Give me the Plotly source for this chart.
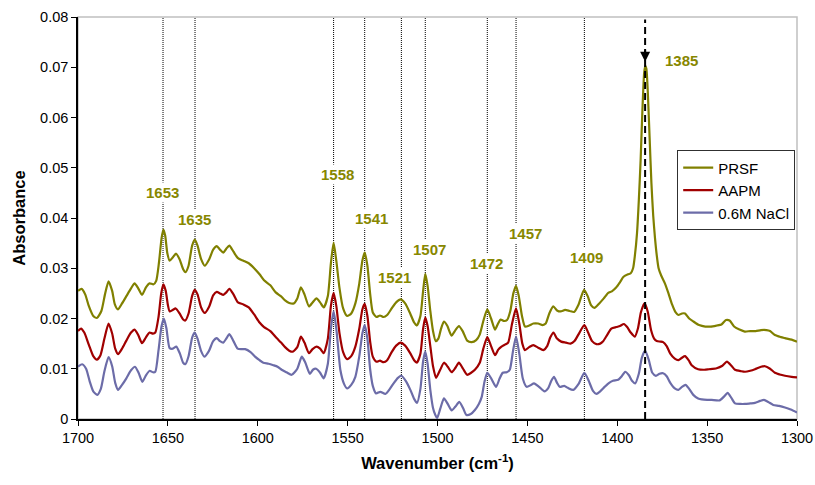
import plotly.graph_objects as go

# ---------------- data ----------------
prsf_wn = [1700, 1698, 1696, 1694, 1691.5, 1689.5, 1687, 1685, 1683, 1681, 1679.5, 1677.8, 1675.5, 1673, 1670.5,
           1668.5, 1666.5, 1664.4, 1662.2, 1660.2, 1658, 1656.5, 1655, 1653.5, 1652.5, 1651.5, 1650.3, 1649, 1647.2,
           1645.5, 1643.5, 1641.5, 1640.2, 1638.5, 1636.5, 1635, 1633.5, 1631.5, 1629.5, 1627, 1624.8, 1622.8, 1621,
           1619.2, 1617.5, 1615.8, 1613.5, 1611, 1608, 1605, 1602, 1599, 1596.5, 1593, 1590, 1587, 1584.8, 1582.5,
           1580, 1578, 1576, 1574, 1571.5, 1569.5, 1567.3, 1565.3, 1563.3, 1561, 1559.3, 1557.8, 1556.3, 1554.5,
           1552.5, 1550.3, 1548, 1545.7, 1543.5, 1541.8, 1540.5, 1539, 1537.5, 1536, 1534, 1532, 1530, 1528, 1525.5,
           1523, 1520.5, 1518, 1515.2, 1513, 1511.5, 1509.5, 1508, 1506.8, 1505.5, 1504, 1502.5, 1501, 1499.5, 1498,
           1496.4, 1494.5, 1492.2, 1490, 1488.1, 1486, 1483.5, 1481, 1478.5, 1476.5, 1474.5, 1472.3, 1470.2, 1468,
           1466.3, 1464.9, 1463, 1461.3, 1459.5, 1457.8, 1456.3, 1454.8, 1453, 1451.3, 1449, 1446.7, 1444, 1441.5,
           1439.8, 1437.8, 1435.6, 1433.5, 1431.5, 1429, 1426.5, 1424, 1421.5, 1418.5, 1416.5, 1414.5, 1412.7, 1410,
           1407.5, 1405, 1403, 1400.5, 1398.5, 1396.5, 1394, 1392.5, 1391.2, 1390.2, 1389, 1388, 1387, 1386, 1385,
           1384.4, 1383.8, 1383, 1382, 1381, 1380, 1379, 1378, 1377, 1375.5, 1373.5, 1371.5, 1369.5, 1367.5, 1366,
           1364, 1362.3, 1360, 1357.6, 1354.5, 1351, 1348, 1344.7, 1342, 1339.5, 1337.5, 1335, 1332, 1329, 1326,
           1323, 1320, 1317, 1315, 1312.3, 1309, 1306.7, 1303, 1300]
prsf_abs = [0.0255, 0.0259, 0.0248, 0.0225, 0.0205, 0.0201, 0.0215, 0.0248, 0.0274, 0.0255, 0.0228, 0.0218, 0.0230,
            0.0245, 0.0260, 0.0270, 0.0260, 0.0247, 0.0262, 0.0270, 0.0268, 0.0275, 0.0310, 0.0360, 0.0377, 0.0365,
            0.0330, 0.0315, 0.0322, 0.0329, 0.0318, 0.0298, 0.0292, 0.0305, 0.0345, 0.0357, 0.0345, 0.0318, 0.0305,
            0.0318, 0.0337, 0.0344, 0.0337, 0.0331, 0.0339, 0.0345, 0.0333, 0.0320, 0.0315, 0.0310, 0.0300, 0.0288,
            0.0276, 0.0266, 0.0252, 0.0244, 0.0236, 0.0231, 0.0230, 0.0240, 0.0262, 0.0248, 0.0224, 0.0232, 0.0240,
            0.0232, 0.0222, 0.0245, 0.0310, 0.0351, 0.0315, 0.0260, 0.0220, 0.0205, 0.0210, 0.0230, 0.0270, 0.0315,
            0.0331, 0.0305, 0.0250, 0.0212, 0.0203, 0.0206, 0.0203, 0.0207, 0.0220, 0.0232, 0.0238, 0.0230, 0.0210,
            0.0192, 0.0186, 0.0205, 0.0255, 0.0289, 0.0265, 0.0215, 0.0175, 0.0155, 0.0160, 0.0180, 0.0194, 0.0185,
            0.0166, 0.0177, 0.0185, 0.0175, 0.0156, 0.0153, 0.0157, 0.0168, 0.0195, 0.0218, 0.0200, 0.0178, 0.0190,
            0.0198, 0.0195, 0.0197, 0.0215, 0.0250, 0.0265, 0.0245, 0.0205, 0.0184, 0.0186, 0.0190, 0.0190, 0.0187,
            0.0190, 0.0210, 0.0224, 0.0216, 0.0214, 0.0217, 0.0215, 0.0213, 0.0228, 0.0257, 0.0245, 0.0226, 0.0221,
            0.0230, 0.0240, 0.0251, 0.0254, 0.0262, 0.0272, 0.0283, 0.0288, 0.0290, 0.0300, 0.0325, 0.0370, 0.0435,
            0.0515, 0.0615, 0.0690, 0.0703, 0.0697, 0.0650, 0.0560, 0.0470, 0.0405, 0.0360, 0.0325, 0.0300, 0.0285,
            0.0270, 0.0250, 0.0228, 0.0212, 0.0207, 0.0210, 0.0210, 0.0200, 0.0194, 0.0187, 0.0184, 0.0184, 0.0186,
            0.0188, 0.0197, 0.0196, 0.0184, 0.0178, 0.0174, 0.0175, 0.0175, 0.0177, 0.0177, 0.0175, 0.0167, 0.0163,
            0.0161, 0.0158, 0.0154]

aapm_wn = [1700, 1698.3, 1696.5, 1694, 1691.5, 1689.5, 1687.5, 1685.3, 1683, 1681, 1679.3, 1677.7, 1675.5, 1673.1,
           1670.5, 1668.5, 1666.5, 1664.4, 1662.3, 1660.2, 1658.3, 1657, 1655.2, 1653.7, 1652.5, 1651.2, 1650, 1649,
           1647.3, 1645.6, 1643.5, 1641.5, 1640.3, 1638.5, 1636.5, 1635.1, 1633.5, 1631.5, 1629.5, 1627, 1624.8,
           1622.8, 1621, 1619.2, 1617.5, 1615.8, 1613.5, 1611, 1608, 1605, 1602, 1599, 1596.5, 1593, 1589.5, 1587,
           1584.8, 1582.5, 1580.5, 1578, 1576, 1574, 1571.5, 1569.5, 1567.3, 1565.3, 1563.3, 1561, 1559.3, 1557.8,
           1556.3, 1554.5, 1552.5, 1550.3, 1548, 1545.7, 1543.5, 1541.8, 1540.5, 1539, 1537.5, 1536, 1534, 1532,
           1530, 1528, 1525.5, 1523, 1520.5, 1518, 1515.2, 1513, 1511.5, 1509.5, 1508, 1506.8, 1505.5, 1504, 1502.5,
           1500.8, 1498.5, 1496.4, 1494.3, 1492.1, 1490, 1488.1, 1485.8, 1483.5, 1481.3, 1479.2, 1476.5, 1474.5,
           1472.3, 1470.2, 1468, 1466.2, 1464.4, 1462.5, 1460.7, 1458.5, 1456.3, 1454.5, 1452.8, 1451.3, 1449,
           1446.7, 1444, 1441.1, 1439, 1437.3, 1435.5, 1433.5, 1431.2, 1428.5, 1426, 1423.8, 1421, 1418.3, 1416.2,
           1414, 1411.6, 1409.5, 1408, 1405.5, 1403.3, 1400.5, 1398.5, 1396.3, 1394.5, 1392.5, 1390.2, 1388.5,
           1386.8, 1384.8, 1383, 1381.2, 1379.5, 1378, 1376, 1374.5, 1372.5, 1370.5, 1368, 1366, 1364, 1362.3,
           1360.3, 1358.6, 1355, 1351.5, 1349, 1344.7, 1341.5, 1339, 1336.5, 1334.5, 1331, 1328.9, 1326, 1323.4,
           1320, 1317.8, 1315, 1312.3, 1309, 1306.7, 1303, 1300]
aapm_abs = [0.0175, 0.0180, 0.0172, 0.0148, 0.0125, 0.0118, 0.0127, 0.0160, 0.0190, 0.0170, 0.0140, 0.0129, 0.0140,
            0.0156, 0.0172, 0.0178, 0.0167, 0.0151, 0.0162, 0.0172, 0.0170, 0.0172, 0.0203, 0.0250, 0.0268, 0.0255,
            0.0227, 0.0214, 0.0217, 0.0220, 0.0210, 0.0198, 0.0196, 0.0210, 0.0245, 0.0257, 0.0248, 0.0222, 0.0211,
            0.0224, 0.0246, 0.0253, 0.0250, 0.0247, 0.0252, 0.0259, 0.0248, 0.0232, 0.0228, 0.0222, 0.0208, 0.0192,
            0.0183, 0.0175, 0.0161, 0.0152, 0.0143, 0.0136, 0.0134, 0.0143, 0.0164, 0.0152, 0.0131, 0.0139, 0.0144,
            0.0140, 0.0131, 0.0160, 0.0225, 0.0251, 0.0225, 0.0170, 0.0133, 0.0119, 0.0125, 0.0144, 0.0180, 0.0218,
            0.0229, 0.0205, 0.0155, 0.0124, 0.0114, 0.0116, 0.0113, 0.0117, 0.0133, 0.0146, 0.0152, 0.0146, 0.0131,
            0.0117, 0.0112, 0.0130, 0.0180, 0.0202, 0.0185, 0.0145, 0.0105, 0.0082, 0.0098, 0.0112, 0.0104, 0.0093,
            0.0102, 0.0112, 0.0100, 0.0088, 0.0092, 0.0098, 0.0112, 0.0140, 0.0163, 0.0145, 0.0127, 0.0138, 0.0144,
            0.0148, 0.0152, 0.0190, 0.0220, 0.0190, 0.0150, 0.0137, 0.0143, 0.0147, 0.0142, 0.0137, 0.0145, 0.0162,
            0.0172, 0.0160, 0.0154, 0.0152, 0.0150, 0.0155, 0.0172, 0.0187, 0.0172, 0.0155, 0.0149, 0.0150, 0.0154,
            0.0168, 0.0180, 0.0183, 0.0185, 0.0189, 0.0183, 0.0172, 0.0164, 0.0180, 0.0213, 0.0230, 0.0213, 0.0177,
            0.0160, 0.0155, 0.0154, 0.0153, 0.0145, 0.0130, 0.0120, 0.0117, 0.0122, 0.0125, 0.0117, 0.0107, 0.0099,
            0.0098, 0.0099, 0.0101, 0.0106, 0.0114, 0.0106, 0.0098, 0.0095, 0.0094, 0.0096, 0.0099, 0.0104, 0.0105,
            0.0100, 0.0092, 0.0088, 0.0086, 0.0084, 0.0083]

nacl_wn = [1700, 1697.7, 1695.5, 1693.5, 1691.5, 1689.3, 1687.3, 1685.3, 1683, 1681, 1679.3, 1677.7, 1675.5, 1673.1,
           1670.5, 1668.3, 1666.3, 1664.2, 1662.2, 1660.1, 1658.3, 1657, 1655.2, 1653.5, 1652.2, 1650.8, 1649,
           1647.2, 1645.3, 1643.3, 1641.5, 1640.3, 1638.5, 1636.5, 1635.1, 1633.5, 1631.5, 1629.7, 1627.2, 1624.8,
           1622.8, 1621, 1619.2, 1617.5, 1615.8, 1613.5, 1611.2, 1609, 1607, 1604, 1601.5, 1599, 1596.9, 1594,
           1591.3, 1589, 1586.7, 1584, 1581.1, 1578, 1575.5, 1573.5, 1571, 1569.3, 1567.5, 1565.3, 1563.3, 1561,
           1559.3, 1557.8, 1556.3, 1554, 1552, 1550.3, 1548, 1545.7, 1543.5, 1541.8, 1540.5, 1539, 1537.5, 1536,
           1534.2, 1531.8, 1529, 1526.5, 1524.4, 1522, 1520.1, 1517.5, 1515.1, 1513, 1511.4, 1509.5, 1508, 1506.8,
           1505.5, 1504, 1502.5, 1501.2, 1500.2, 1498.5, 1496.4, 1494.3, 1492.1, 1490, 1487.9, 1485.8, 1483.9,
           1481.5, 1479.2, 1477, 1475.4, 1473.8, 1472.3, 1470, 1467.4, 1465.5, 1463.7, 1461.5, 1459.8, 1458, 1456.3,
           1454.5, 1452.5, 1450.4, 1448.3, 1446.3, 1443.5, 1440.5, 1438.5, 1436.8, 1435.2, 1433.5, 1432, 1429.5,
           1427.5, 1424.5, 1421.5, 1418.3, 1416, 1413.5, 1411.6, 1409.5, 1407, 1404.5, 1402.4, 1399.5, 1397.5,
           1395.6, 1393.5, 1391.8, 1390, 1388, 1386.3, 1384.5, 1382.5, 1380.5, 1378.5, 1376.5, 1374.5, 1372.5,
           1370.5, 1368, 1366, 1364, 1362, 1360, 1357.7, 1355, 1353, 1350, 1347.5, 1343, 1340.5, 1338.6, 1336.5,
           1334.5, 1331.5, 1329, 1326, 1323.4, 1320.5, 1318.4, 1316, 1313.2, 1310, 1306.7, 1303.5, 1300]
nacl_abs = [0.0104, 0.0109, 0.0100, 0.0075, 0.0055, 0.0048, 0.0060, 0.0095, 0.0123, 0.0105, 0.0072, 0.0058, 0.0068,
            0.0081, 0.0097, 0.0104, 0.0092, 0.0074, 0.0087, 0.0096, 0.0093, 0.0094, 0.0137, 0.0185, 0.0200, 0.0180,
            0.0141, 0.0140, 0.0144, 0.0130, 0.0112, 0.0109, 0.0125, 0.0162, 0.0172, 0.0160, 0.0135, 0.0124, 0.0135,
            0.0155, 0.0161, 0.0155, 0.0152, 0.0160, 0.0169, 0.0155, 0.0140, 0.0139, 0.0139, 0.0133, 0.0124, 0.0117,
            0.0112, 0.0110, 0.0107, 0.0104, 0.0098, 0.0093, 0.0088, 0.0100, 0.0124, 0.0112, 0.0090, 0.0098, 0.0100,
            0.0092, 0.0081, 0.0110, 0.0180, 0.0214, 0.0180, 0.0097, 0.0070, 0.0061, 0.0068, 0.0084, 0.0125, 0.0170,
            0.0187, 0.0160, 0.0100, 0.0066, 0.0051, 0.0054, 0.0050, 0.0060, 0.0071, 0.0082, 0.0086, 0.0075, 0.0058,
            0.0040, 0.0032, 0.0060, 0.0115, 0.0134, 0.0110, 0.0058, 0.0022, 0.0008, 0.0002, 0.0020, 0.0041, 0.0030,
            0.0017, 0.0025, 0.0034, 0.0022, 0.0008, 0.0010, 0.0018, 0.0030, 0.0044, 0.0075, 0.0092, 0.0080, 0.0064,
            0.0080, 0.0092, 0.0093, 0.0098, 0.0135, 0.0164, 0.0130, 0.0080, 0.0064, 0.0067, 0.0071, 0.0064, 0.0055,
            0.0061, 0.0075, 0.0084, 0.0072, 0.0064, 0.0066, 0.0062, 0.0058, 0.0070, 0.0092, 0.0077, 0.0056, 0.0050,
            0.0055, 0.0064, 0.0072, 0.0076, 0.0078, 0.0085, 0.0094, 0.0087, 0.0076, 0.0071, 0.0090, 0.0122, 0.0136,
            0.0118, 0.0092, 0.0086, 0.0090, 0.0091, 0.0085, 0.0072, 0.0061, 0.0058, 0.0064, 0.0068, 0.0060, 0.0048,
            0.0041, 0.0039, 0.0038, 0.0038, 0.0037, 0.0045, 0.0052, 0.0042, 0.0031, 0.0030, 0.0030, 0.0031, 0.0032,
            0.0036, 0.0038, 0.0034, 0.0028, 0.0026, 0.0023, 0.0019, 0.0013]

series_names = ["PRSF", "AAPM", "0.6M NaCl"]

# marked bands: dotted guide lines and their labels
band_lines = [1652.7, 1634.9, 1557.8, 1540.5, 1520.1, 1506.8, 1472.3, 1456.3, 1418.3]
band_labels = ["1653", "1635", "1558", "1541", "1521", "1507", "1472", "1457", "1409"]
main_band = 1384.5
main_label = "1385"

x_ticks = [1700, 1650, 1600, 1550, 1500, 1450, 1400, 1350, 1300]
y_ticks = [0, 0.01, 0.02, 0.03, 0.04, 0.05, 0.06, 0.07, 0.08]

# ---------------- styling / layout ----------------
colors = ["#808000", "#A00000", "#6C6CA8"]
label_color = "#878700"
FONT = "Liberation Sans, Arial, sans-serif"
# label anchor positions (x in wavenumber, y in absorbance)
label_pos = [(1652.8, 0.0450), (1635.0, 0.0398), (1555.4, 0.0486), (1536.6, 0.0400), (1524.2, 0.0281),
             (1504.2, 0.0338), (1472.6, 0.0310), (1451.3, 0.0370), (1417.0, 0.0322)]
main_label_pos = (1364.0, 0.0714)

fig = go.Figure()
series = [(prsf_wn, prsf_abs), (aapm_wn, aapm_abs), (nacl_wn, nacl_abs)]
for (wn, ab), name, col in zip(series, series_names, colors):
    fig.add_trace(go.Scatter(x=wn, y=ab, mode="lines", name=name, legendgroup=name,
                             line=dict(color=col, width=2.2, shape="spline", smoothing=0.6)))

shapes = [dict(type="rect", xref="paper", yref="paper", x0=0, x1=1, y0=0, y1=1,
               line=dict(color="#C0C0C0", width=1.5), layer="below")]
for wn in band_lines:
    shapes.append(dict(type="line", xref="x", yref="y", x0=wn, x1=wn, y0=0, y1=0.08,
                       line=dict(color="black", width=1, dash="1px,1px"), layer="below"))
shapes.append(dict(type="line", xref="x", yref="y", x0=main_band, x1=main_band, y0=0, y1=0.0795,
                   line=dict(color="black", width=2, dash="7px,4px"), layer="above"))

annotations = []
for txt, (lx, ly) in zip(band_labels, label_pos):
    annotations.append(dict(x=lx, y=ly, xref="x", yref="y", text="<b>%s</b>" % txt, showarrow=False,
                            font=dict(family=FONT, size=15, color=label_color), bgcolor="white", borderpad=1))
annotations.append(dict(x=main_label_pos[0], y=main_label_pos[1], xref="x", yref="y",
                        text="<b>%s</b>" % main_label, showarrow=False,
                        font=dict(family=FONT, size=15, color=label_color)))
# arrow head pointing at the main band
annotations.append(dict(x=main_band, y=0.0711, xref="x", yref="y", ax=0, ay=-14, showarrow=True,
                        arrowhead=2, arrowsize=1, arrowwidth=2, arrowcolor="black", text=" ",
                        font=dict(size=2)))

fig.update_layout(
    width=815, height=485,
    margin=dict(l=78, r=18, t=17, b=66),
    paper_bgcolor="white", plot_bgcolor="white",
    font=dict(family=FONT, size=14, color="black"),
    shapes=shapes, annotations=annotations,
    showlegend=True,
    legend=dict(x=0.9975, xanchor="right", y=0.668, yanchor="top", bgcolor="white",
                bordercolor="#303030", borderwidth=1, font=dict(family=FONT, size=15, color="black"),
                tracegroupgap=0, itemwidth=30),
    xaxis=dict(range=[1700, 1300], tickvals=x_ticks, ticktext=[str(v) for v in x_ticks],
               showgrid=False, zeroline=False, showline=True, linecolor="black", linewidth=1.5,
               ticks="outside", ticklen=5, tickcolor="black", tickfont=dict(size=14.5), automargin=False,
               title=dict(text="<b>Wavenumber (cm<sup>-1</sup>)</b>", font=dict(size=16.5), standoff=12)),
    yaxis=dict(range=[0, 0.08], tickvals=y_ticks, ticktext=["0"] + ["%.2f" % v for v in y_ticks[1:]],
               showgrid=False, zeroline=False, showline=True, linecolor="black", linewidth=1.5,
               ticks="outside", ticklen=5, tickcolor="black", tickfont=dict(size=14.5), automargin=False,
               title=dict(text="<b>Absorbance</b>", font=dict(size=16.5), standoff=10)),
)

fig.write_html("out.html")
